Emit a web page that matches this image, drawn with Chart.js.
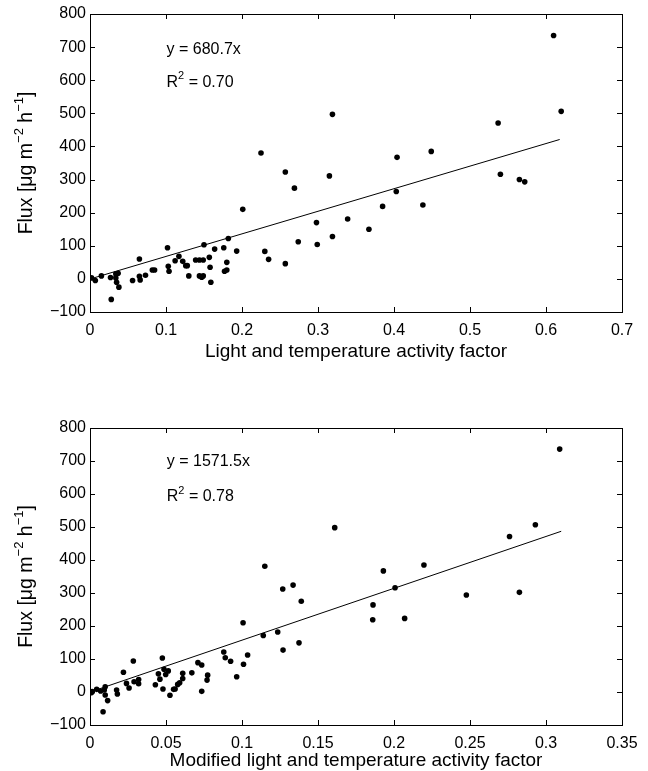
<!DOCTYPE html>
<html>
<head>
<meta charset="utf-8">
<script src="https://cdn.jsdelivr.net/npm/chart.js@4.4.1/dist/chart.umd.min.js"></script>
<style>
  html, body { margin: 0; padding: 0; background: #fff; width: 648px; height: 771px; overflow: hidden; }
  .box { position: absolute; left: 0; width: 648px; }
  #b1 { top: 0; height: 370px; }
  #b2 { top: 414px; height: 357px; }
</style>
</head>
<body>
<div class="box" id="b1"><canvas id="c1"></canvas></div>
<div class="box" id="b2"><canvas id="c2"></canvas></div>
<script>
// ---- Data ----
const topFactor = [0.002,0.007,0.015,0.027,0.028,0.034,0.037,0.034,0.035,0.038,0.056,0.065,0.065,0.066,0.073,0.082,0.085,0.102,0.103,0.104,0.112,0.117,0.122,0.126,0.128,0.130,0.139,0.144,0.149,0.144,0.147,0.149,0.150,0.157,0.158,0.159,0.164,0.176,0.177,0.180,0.180,0.182,0.193,0.201,0.225,0.230,0.235,0.257,0.257,0.269,0.274,0.298,0.299,0.315,0.319,0.319,0.339,0.367,0.385,0.403,0.404,0.438,0.449,0.537,0.540,0.565,0.572,0.610,0.620];
const topFlux = [3,-5,9,4,-62,15,17,3,-10,-25,-5,60,8,-3,11,27,27,94,38,23,55,68,53,40,40,9,57,57,57,9,5,9,103,65,35,-10,90,94,23,27,50,122,84,210,380,83,59,323,46,274,112,170,104,311,497,128,181,150,219,264,367,223,385,471,316,300,293,735,506];
const topFitX = [0.002, 0.618];
const topFitY = [1, 421];

const botFactor = [0.0007,0.0015,0.0044,0.007,0.0094,0.010,0.010,0.0116,0.0086,0.0175,0.018,0.022,0.024,0.0257,0.0285,0.029,0.032,0.032,0.043,0.045,0.046,0.0476,0.048,0.0487,0.0498,0.0515,0.0526,0.055,0.056,0.0577,0.059,0.061,0.061,0.067,0.071,0.0735,0.0735,0.077,0.0774,0.088,0.089,0.0925,0.0965,0.1007,0.101,0.1037,0.114,0.115,0.1235,0.1268,0.127,0.1336,0.1375,0.139,0.161,0.186,0.1862,0.193,0.2007,0.207,0.2197,0.2476,0.276,0.2825,0.293,0.309];
const botFlux = [-2,1,8,3,6,16,-9,-26,-60,6,-6,60,26,12,94,31,38,25,22,55,39,103,9,69,53,64,-10,8,9,23,28,41,57,58,89,82,2,36,51,121,104,93,46,210,84,112,171,381,182,312,127,324,149,275,498,219,264,367,316,223,385,294,471,302,507,736];
const botFitX = [0.0007, 0.310];
const botFitY = [1, 487];

const fluxTicks = [-100, 0, 100, 200, 300, 400, 500, 600, 700, 800];
const topTicks = [0, 0.1, 0.2, 0.3, 0.4, 0.5, 0.6, 0.7];
const botTicks = [0, 0.05, 0.1, 0.15, 0.2, 0.25, 0.3, 0.35];

const topEq = 'y = 680.7x', topR2 = '0.70';
const botEq = 'y = 1571.5x', botR2 = '0.78';

// ---- helpers ----
const FONT = '"Liberation Sans", Arial, Helvetica, sans-serif';
const pts = (xs, ys) => xs.map((v, i) => ({ x: v, y: ys[i] }));

const frame = {
  id: 'frame',
  afterDraw(chart, args, o) {
    const { ctx, chartArea: a, scales: { x, y } } = chart;
    ctx.save();
    ctx.strokeStyle = '#000';
    ctx.lineWidth = 1;
    ctx.strokeRect(Math.round(a.left) + 0.5, Math.round(a.top) + 0.5, Math.round(a.right - a.left), Math.round(a.bottom - a.top));
    const L = 5;
    ctx.beginPath();
    x.ticks.forEach(t => {
      const p = Math.round(x.getPixelForValue(t.value)) + 0.5;
      ctx.moveTo(p, a.bottom); ctx.lineTo(p, a.bottom - L);
      ctx.moveTo(p, a.top); ctx.lineTo(p, a.top + L);
    });
    y.ticks.forEach(t => {
      const p = Math.round(y.getPixelForValue(t.value)) + 0.5;
      ctx.moveTo(a.left, p); ctx.lineTo(a.left + L, p);
      ctx.moveTo(a.right, p); ctx.lineTo(a.right - L, p);
    });
    ctx.stroke();

    // annotations
    ctx.fillStyle = '#000';
    ctx.textBaseline = 'middle';
    ctx.textAlign = 'left';
    const ax = x.getPixelForValue(o.annX);
    ctx.font = '16px ' + FONT;
    ctx.fillText(o.eq, ax, y.getPixelForValue(o.eqY));
    const ry = y.getPixelForValue(o.r2Y);
    ctx.fillText('R', ax, ry);
    let w = ctx.measureText('R').width;
    ctx.font = '11px ' + FONT;
    ctx.fillText('2', ax + w, ry - 6);
    w += ctx.measureText('2').width;
    ctx.font = '16px ' + FONT;
    ctx.fillText(' = ' + o.r2, ax + w, ry);

    // y-axis title with superscripts
    const segs = [
      ['Flux [\u03bcg m', false], ['\u22122', true], [' h', false], ['\u22121', true], [']', false]
    ];
    const big = '19.5px ' + FONT, small = '13px ' + FONT;
    let total = 0;
    segs.forEach(s => { ctx.font = s[1] ? small : big; total += ctx.measureText(s[0]).width; });
    ctx.translate(o.yTitleX, (a.top + a.bottom) / 2);
    ctx.rotate(-Math.PI / 2);
    let cx = -total / 2;
    segs.forEach(s => {
      ctx.font = s[1] ? small : big;
      ctx.fillText(s[0], cx, s[1] ? -8 : 0);
      cx += ctx.measureText(s[0]).width;
    });
    ctx.restore();
  }
};

function makeChart(id, xs, ys, fx, fy, xTicks, xMax, title, xAxisH, titlePad, ann) {
  return new Chart(document.getElementById(id), {
    type: 'scatter',
    data: {
      datasets: [
        { data: pts(xs, ys), backgroundColor: '#000', borderColor: '#000', pointRadius: 2.8, pointHoverRadius: 2.8, borderWidth: 0 },
        { type: 'line', data: pts(fx, fy), showLine: true, borderColor: '#000', borderWidth: 1, pointRadius: 0, fill: false, tension: 0 }
      ]
    },
    options: {
      responsive: true,
      maintainAspectRatio: false,
      animation: false,
      events: [],
      layout: { padding: { top: 14, right: 26, left: 0, bottom: 0 } },
      plugins: { legend: { display: false }, tooltip: { enabled: false }, frame: ann },
      scales: {
        x: {
          type: 'linear', min: xTicks[0], max: xMax,
          afterBuildTicks: s => { s.ticks = xTicks.map(v => ({ value: v })); },
          afterFit: s => { s.height = xAxisH; },
          grid: { display: false, drawTicks: false },
          border: { display: false },
          ticks: { color: '#000', font: { family: FONT, size: 16 }, padding: 9, maxRotation: 0, autoSkip: false,
                   callback: v => String(+v.toFixed(2)) },
          title: { display: true, text: title, color: '#000', font: { family: FONT, size: 19, lineHeight: 1 }, padding: { top: 0, bottom: titlePad } }
        },
        y: {
          type: 'linear', min: -100, max: 800,
          afterBuildTicks: s => { s.ticks = fluxTicks.map(v => ({ value: v })); },
          afterFit: s => { s.width = 90; },
          grid: { display: false, drawTicks: false },
          border: { display: false },
          ticks: { color: '#000', font: { family: FONT, size: 16 }, padding: 4, autoSkip: false,
                   callback: v => String(v).replace('-', '\u2212') }
        }
      }
    },
    plugins: [frame]
  });
}

makeChart('c1', topFactor, topFlux, topFitX, topFitY, topTicks, 0.7,
  'Light and temperature activity factor', 58, 9,
  { annX: 0.1007, eq: topEq, eqY: 692, r2: topR2, r2Y: 594, yTitleX: 27 });
makeChart('c2', botFactor, botFlux, botFitX, botFitY, botTicks, 0.35,
  'Modified light and temperature activity factor', 46, 1,
  { annX: 0.0505, eq: botEq, eqY: 698, r2: botR2, r2Y: 592, yTitleX: 27 });
</script>
</body>
</html>
